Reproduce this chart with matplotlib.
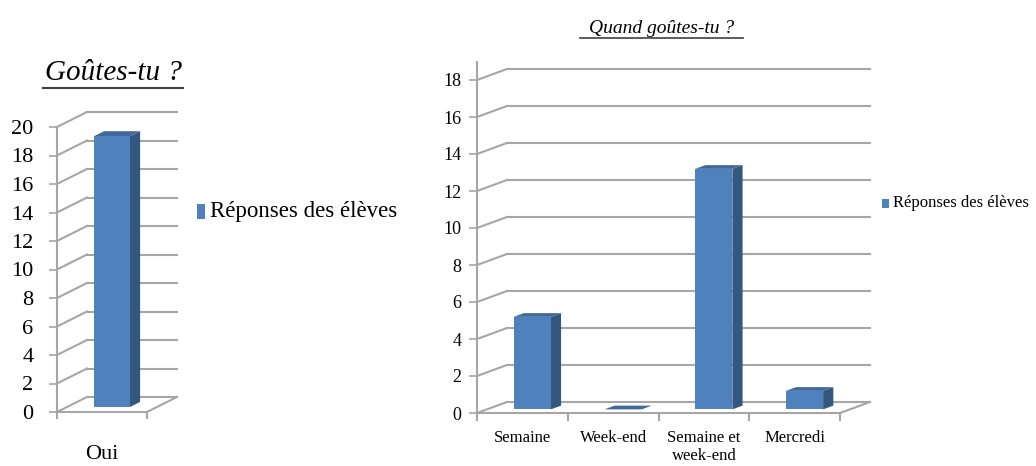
import matplotlib.pyplot as plt
from matplotlib.patches import Polygon, Rectangle

# ---- data ----
cats_left = ["Oui"]
vals_left = [19]
cats_right = ["Semaine", "Week-end", "Semaine et\nweek-end", "Mercredi"]
vals_right = [5, 0, 13, 1]
serie = "Réponses des élèves"

FRONT = "#4F81BD"
SIDE = "#34577F"
TOP = "#41699C"
GRID = "#A6A6A6"
SERIF = ["Liberation Serif", "DejaVu Serif"]

W, H = 1036, 466
fig = plt.figure(figsize=(W / 100, H / 100), dpi=100)


def px_axes(x0, y0, x1, y1):
    """ axes placed from pixel coords (top-left origin) """
    return fig.add_axes([x0 / W, 1 - y1 / H, (x1 - x0) / W, (y1 - y0) / H])


def chart3d(ax, cats, vals, ymax, step, ddx, ddy, bw, fs, xfs, ypad, xpad, top_ext):
    n = len(cats)
    ax.set_xlim(0, n)
    ax.set_ylim(0, ymax)
    ax.patch.set_alpha(0)
    for s in ["top", "right", "bottom"]:
        ax.spines[s].set_visible(False)
    ax.spines["left"].set_color(GRID)
    ax.spines["left"].set_linewidth(1.5)
    ax.spines["left"].set_bounds(0, ymax + top_ext)
    ax.spines["left"].set_clip_on(False)

    ticks = list(range(0, ymax + 1, step))
    ax.set_yticks(ticks)
    ax.set_yticklabels([str(t) for t in ticks], family=SERIF, fontsize=fs)
    ax.tick_params(axis="y", length=6, width=1.2, color=GRID, pad=ypad)
    ax.set_xticks([i + 0.5 for i in range(n)])
    ax.set_xticklabels(cats, family=SERIF, fontsize=xfs, linespacing=1.2)
    ax.tick_params(axis="x", length=0, pad=xpad)

    kw = dict(color=GRID, lw=1.5, clip_on=False, zorder=1)
    # walls: diagonals on the side wall + back wall gridlines
    for t in ticks:
        ax.plot([0, ddx], [t, t + ddy], **kw)
        ax.plot([ddx, n + ddx], [t + ddy, t + ddy], **kw)
    # floor
    ax.plot([0, n], [0, 0], **kw)
    ax.plot([n, n + ddx], [0, ddy], **kw)
    for i in range(n + 1):
        ax.plot([i, i], [0, -ymax * 0.022], **kw)

    f, th = 0.33, 0.34
    for i, v in enumerate(vals):
        x0 = i + 0.5 - bw / 2 + f * ddx
        x1 = x0 + bw
        y0 = f * ddy
        ex, ey = th * ddx, th * ddy
        ax.add_patch(Polygon([(x1, y0), (x1 + ex, y0 + ey), (x1 + ex, y0 + v + ey),
                              (x1, y0 + v)], closed=True, fc=SIDE, ec="none",
                             clip_on=False, zorder=3))
        ax.add_patch(Polygon([(x0, y0 + v), (x1, y0 + v), (x1 + ex, y0 + v + ey),
                              (x0 + ex, y0 + v + ey)], closed=True, fc=TOP, ec="none",
                             clip_on=False, zorder=3))
        ax.add_patch(Rectangle((x0, y0), bw, v, fc=FRONT, ec="none",
                               clip_on=False, zorder=4))


# ---- left chart ----
axl = px_axes(57, 127, 147, 412)
chart3d(axl, cats_left, vals_left, 20, 2, 30 / 90, 15 / 14.25, 0.4,
        16, 16, 11, 24, 0)
fig.text(45 / W, 1 - 80 / H, "Goûtes-tu ?", family=SERIF, style="italic",
         fontsize=21, ha="left", va="baseline")
fig.add_artist(plt.Line2D([43 / W, 183 / W], [1 - 88 / H] * 2, color="#404040", lw=1.5))
fig.add_artist(Rectangle((197 / W, 1 - 219 / H), 8 / W, 15 / H, fc=FRONT, ec="none"))
fig.text(210 / W, 1 - 212 / H, serie, family=SERIF, fontsize=16.5, ha="left", va="center")

# ---- right chart ----
axr = px_axes(477, 80, 840, 413)
chart3d(axr, cats_right, vals_right, 18, 2, 30 / 90.75, 11 / 18.5, 0.41,
        13, 12, 5, 12, 1.0)
fig.text(662 / W, 1 - 33 / H, "Quand goûtes-tu ?", family=SERIF, style="italic",
         fontsize=14, ha="center", va="baseline")
fig.add_artist(plt.Line2D([580 / W, 743 / W], [1 - 38 / H] * 2, color="#404040", lw=1.2))
fig.add_artist(Rectangle((882 / W, 1 - 208 / H), 7 / W, 9 / H, fc=FRONT, ec="none"))
fig.text(893 / W, 1 - 203 / H, serie, family=SERIF, fontsize=12, ha="left", va="center")

fig.savefig("out.png", dpi=100)
